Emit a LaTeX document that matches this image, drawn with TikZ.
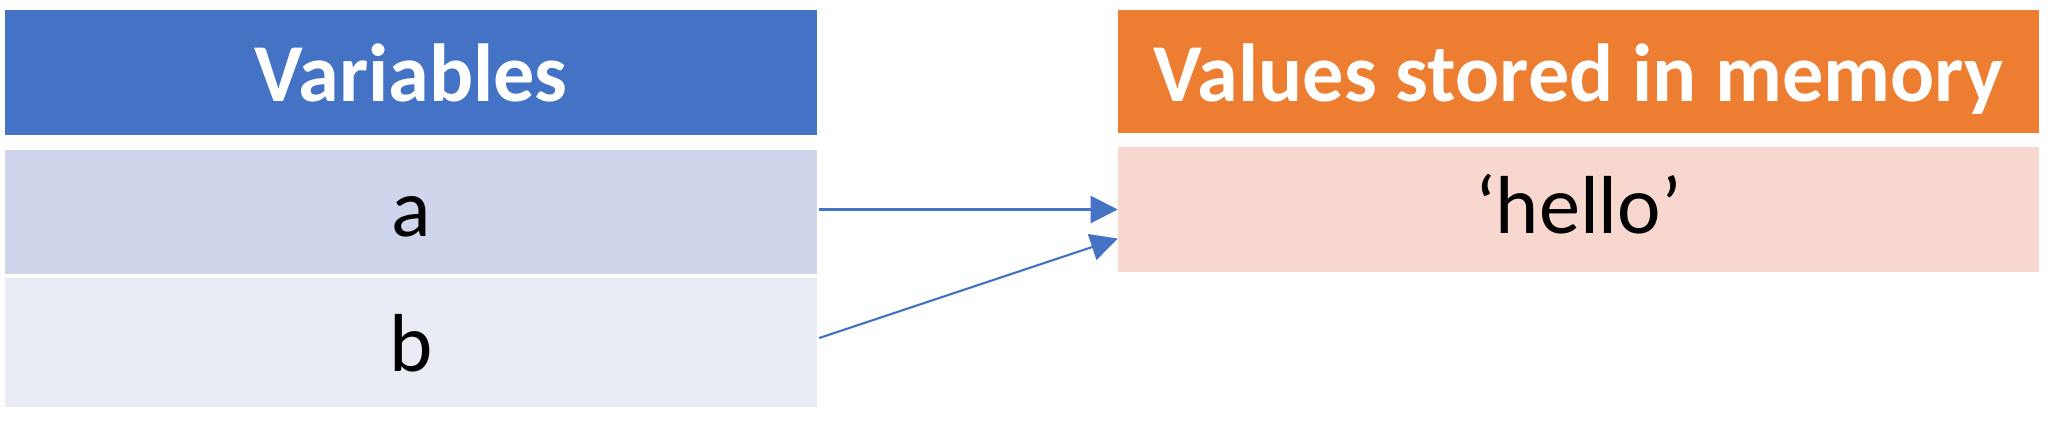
\documentclass[tikz,border=0pt]{standalone}
\usepackage{fontspec}
\setmainfont{Carlito}
\usetikzlibrary{arrows.meta}
\definecolor{hdrblue}{HTML}{4472C4}
\definecolor{hdrorange}{HTML}{ED7D31}
\definecolor{rowa}{HTML}{CFD5EA}
\definecolor{rowb}{HTML}{E9EBF5}
\definecolor{rowhello}{HTML}{F8D8CE}
\tikzset{
  cell/.style={draw=none, inner sep=0pt, outer sep=0pt, align=center,
    font=\fontsize{23.4}{28}\selectfont},
  hdr/.style={cell, text=white, font=\fontsize{23.4}{28}\selectfont\bfseries},
  arr/.style={draw=hdrblue, line width=0.6pt, -{Triangle[length=0.27cm,width=0.27cm]}}
}
\begin{document}
\begin{tikzpicture}[x=0.01cm,y=-0.01cm]
\useasboundingbox (0,0) rectangle (2052,442);
% headers
\node[hdr, fill=hdrblue, minimum width=8.12cm, minimum height=1.25cm,
  text height=0.57cm, text depth=0pt] (vh) at (411,72.5) {Variables};
\node[hdr, fill=hdrorange, minimum width=9.21cm, minimum height=1.23cm,
  text height=0.60cm, text depth=0pt] (mh) at (1578.5,71.5) {Values stored in memory};
% rows
\node[cell, fill=rowa, minimum width=8.12cm, minimum height=1.24cm,
  text height=0.48cm, text depth=0pt] (va) at (411,212) {a};
\node[cell, fill=rowb, minimum width=8.12cm, minimum height=1.29cm,
  text height=0.57cm, text depth=0pt] (vb) at (411,342.5) {b};
\node[cell, fill=rowhello, minimum width=9.21cm, minimum height=1.25cm,
  text height=0.47cm, text depth=0pt] (hello) at (1578.5,209.5) {‘hello’};
% connectors
\draw[arr] ([xshift=0.02cm]va.east |- hello.west) -- (hello.west);
\draw[arr] ([xshift=0.02cm,yshift=0.045cm]vb.east) -- ([yshift=-0.29cm]hello.west);
\end{tikzpicture}
\end{document}
